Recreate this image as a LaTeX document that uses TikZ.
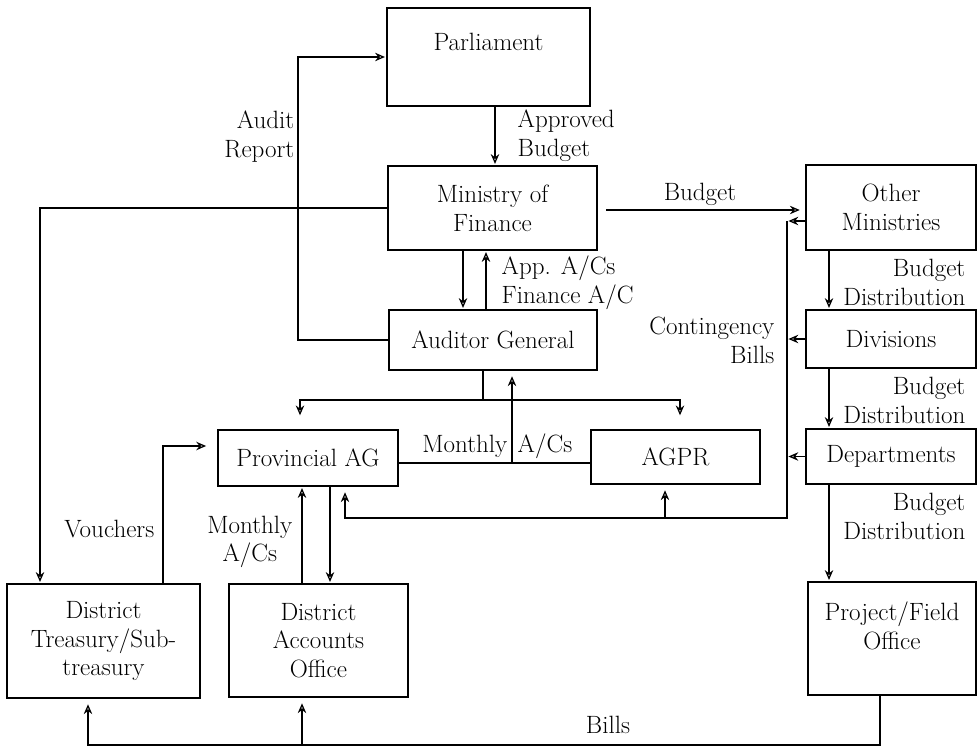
\documentclass[tikz,border=0pt]{standalone}
\usetikzlibrary{positioning,arrows.meta,calc}
\tikzset{
  box/.style 2 args={draw,line width=0.9pt,minimum width=#1*0.025cm,minimum height=#2*0.025cm,align=center,inner sep=2pt},
  wire/.style={line width=0.9pt},
  flow/.style={wire,shorten >=1pt,-{Stealth[length=7pt,width=6pt,open]}},
  drop/.style={flow,shorten >=10pt},
  tag/.style={inner sep=1pt}
}

\begin{document}
\begin{tikzpicture}[x=0.025cm,y=-0.025cm,font=\fontsize{17.8}{20.5}\selectfont]
  \useasboundingbox (0,0) rectangle (978,749);
  \node[box={203}{98}] (parl) at (488.5,57) {Parliament\\[1pt]};
  \node[box={209}{84}] (mof) at (492.5,208) {Ministry of\\Finance};
  \node[box={208}{60}] (ag) at (493,340) {Auditor General};
  \node[box={170}{85}] (other) at (891,207.5) {Other\\Ministries};
  \node[box={170}{58}] (div) at (891,339) {Divisions};
  \node[box={170}{55}] (dept) at (891,456.5) {Departments};
  \node[box={168}{113}] (proj) at (892,638.5) {Project/Field\\Office\\[-2pt]};
  \node[box={180}{56}] (pag) at (308,458) {Provincial AG};
  \node[box={169}{54}] (agpr) at (675.5,457) {AGPR};
  \node[box={193}{114}] (dt) at (103.5,641) {District\\Treasury/Sub-\\treasury};
  \node[box={179}{113}] (dao) at (318.5,640.5) {District\\Accounts\\Office};

  \coordinate (pm) at (495,0);
  \coordinate (aud) at (298,0);
  \coordinate (tl) at (40,0);
  \coordinate (ma) at (463,0);
  \coordinate (am) at (486,0);
  \coordinate (busAG) at (483,400);
  \coordinate (lanePA) at (300,0);
  \coordinate (laneAP) at (680,0);
  \coordinate (mon) at (0,463);
  \coordinate (laneM) at (512,0);
  \coordinate (cbTop) at (787,221);
  \coordinate (cbBot) at (787,518);
  \coordinate (laneB) at (345,0);
  \coordinate (laneG) at (665,0);
  \coordinate (bd) at (829,0);
  \coordinate (billsY) at (0,745);
  \coordinate (laneBill) at (880,0);
  \coordinate (laneDT) at (88,0);
  \coordinate (laneDA) at (302,0);
  \coordinate (laneV) at (163,0);
  \coordinate (vY) at (0,446);
  \coordinate (laneUp) at (302,0);
  \coordinate (laneDn) at (330,0);
  \coordinate (budY) at (0,210);

  \draw[flow] (parl.south -| pm) -- (mof.north -| pm);
  \draw[flow] (ag.west) -| (parl.west -| aud) -- (parl.west);
  \draw[flow] (mof.west) -| (dt.north -| tl);
  \draw[flow,shorten <=6pt,shorten >=4pt] (mof.east |- budY) -- (other.west |- budY);
  \draw[flow] (mof.south -| ma) -- (ag.north -| ma);
  \draw[flow] (ag.north -| am) -- (mof.south -| am);

  \draw[wire] (ag.south -| busAG) -- (busAG);
  \draw[drop] (busAG) -- (busAG -| lanePA) -- (pag.north -| lanePA);
  \draw[drop] (busAG) -- (busAG -| laneAP) -- (agpr.north -| laneAP);

  \draw[wire] (pag.east |- mon) -- (agpr.west |- mon);
  \draw[flow,shorten >=4pt] (mon -| laneM) -- (ag.south -| laneM);

  \draw[flow] (other.west |- cbTop) -- (cbTop);
  \draw[flow] (div.west) -- (div.west -| cbTop);
  \draw[flow] (dept.west) -- (dept.west -| cbTop);
  \draw[flow,shorten >=4pt] (cbTop) -- (cbBot) -- (cbBot -| laneB) -- (pag.south -| laneB);
  \draw[flow,shorten >=4pt] (cbBot -| laneG) -- (agpr.south -| laneG);

  \draw[flow] (other.south -| bd) -- (div.north -| bd);
  \draw[flow] (div.south -| bd) -- (dept.north -| bd);
  \draw[flow] (dept.south -| bd) -- (proj.north -| bd);

  \draw[flow,shorten >=4pt] (proj.south -| laneBill) -- (laneBill |- billsY) -- (billsY -| laneDT) -- (dt.south -| laneDT);
  \draw[flow,shorten >=4pt] (billsY -| laneDA) -- (dao.south -| laneDA);

  \draw[flow,shorten >=8pt] (dt.north -| laneV) -- (laneV |- vY) -- (pag.west |- vY);
  \draw[flow] (dao.north -| laneUp) -- (pag.south -| laneUp);
  \draw[flow] (pag.south -| laneDn) -- (dao.north -| laneDn);

  \node[tag,anchor=west,align=left] (lApproved) at (516,136) {Approved\\Budget};
  \node[tag,anchor=east,align=right] (lAudit) at (296,137) {Audit\\Report};
  \node[tag] (lBudget) at (700,194) {Budget};
  \node[tag,anchor=west,align=left] (lApp) at (500,283) {App. A/Cs\\Finance A/C};
  \node[tag,anchor=east,align=right] (lBD1) at (967,282) {Budget\\Distribution};
  \node[tag,anchor=east,align=right] (lBD2) at (967,400) {Budget\\Distribution};
  \node[tag,anchor=east,align=right] (lBD3) at (967,516) {Budget\\Distribution};
  \node[tag,anchor=east,align=right] (lCont) at (776,340) {Contingency\\Bills};
  \node[tag,anchor=east] (lMon) at (509,446) {Monthly};
  \node[tag,anchor=west] (lAcs) at (516,446) {A/Cs};
  \node[tag,anchor=east] (lVouch) at (156,529) {Vouchers};
  \node[tag,anchor=east,align=center] (lMonA) at (294,542) {Monthly\\A/Cs};
  \node[tag] (lBills) at (608,725) {Bills};
\end{tikzpicture}
\end{document}
